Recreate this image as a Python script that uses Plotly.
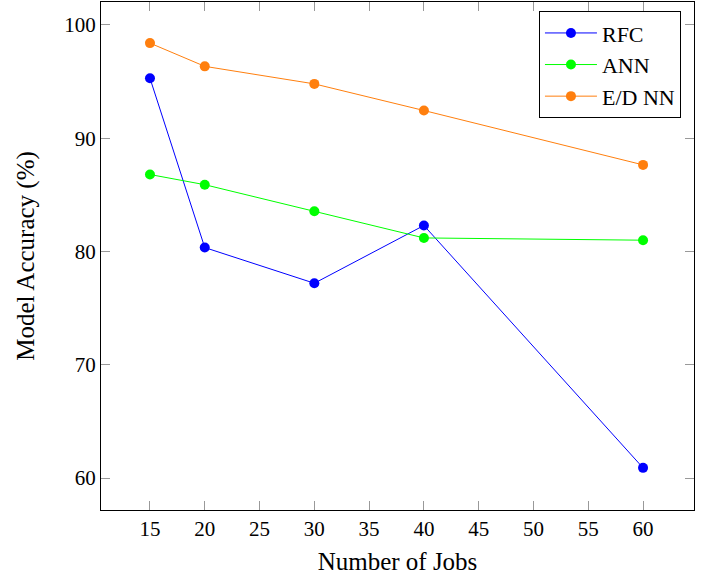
import plotly.graph_objects as go

jobs = [15, 20, 30, 40, 60]
rfc = [95.3, 80.35, 77.2, 82.3, 60.9]
ann = [86.8, 85.9, 83.55, 81.2, 81.0]
ednn = [98.4, 96.35, 94.8, 92.45, 87.65]

series = [("RFC", rfc, "#0000ff"), ("ANN", ann, "#00ff00"), ("E/D NN", ednn, "#ff7f0e")]

fig = go.Figure()
for name, vals, col in series:
    fig.add_trace(go.Scatter(x=jobs, y=vals, name=name, mode="lines+markers",
                             line=dict(color=col, width=1),
                             marker=dict(color=col, size=10)))

serif = "Liberation Serif, Times New Roman, serif"
font = dict(family=serif, size=21, color="black")
fig.update_layout(
    width=708, height=576,
    margin=dict(l=101, r=14, t=2, b=66),
    plot_bgcolor="white", paper_bgcolor="white",
    font=font,
    showlegend=True,
    legend=dict(x=0.978, y=0.982, xanchor="right", yanchor="top",
                bordercolor="black", borderwidth=1, bgcolor="white",
                font=dict(family=serif, size=22), itemwidth=52,
                tracegroupgap=0),
)
fig.update_xaxes(range=[10.53, 64.65], tickmode="array", tickvals=list(range(15, 61, 5)),
                 ticks="inside", ticklen=9, tickcolor="#999", showgrid=False, zeroline=False,
                 showline=True, linecolor="black", linewidth=1, mirror="ticks",
                 title=dict(text="Number of Jobs", standoff=12))
fig.update_yaxes(range=[57.18, 102.03], tickmode="array", tickvals=[60, 70, 80, 90, 100],
                 ticks="inside", ticklen=9, tickcolor="#999", showgrid=False, zeroline=False,
                 showline=True, linecolor="black", linewidth=1, mirror="ticks",
                 title=dict(text="Model Accuracy (%)", standoff=22))

fig.write_html("out.html")
